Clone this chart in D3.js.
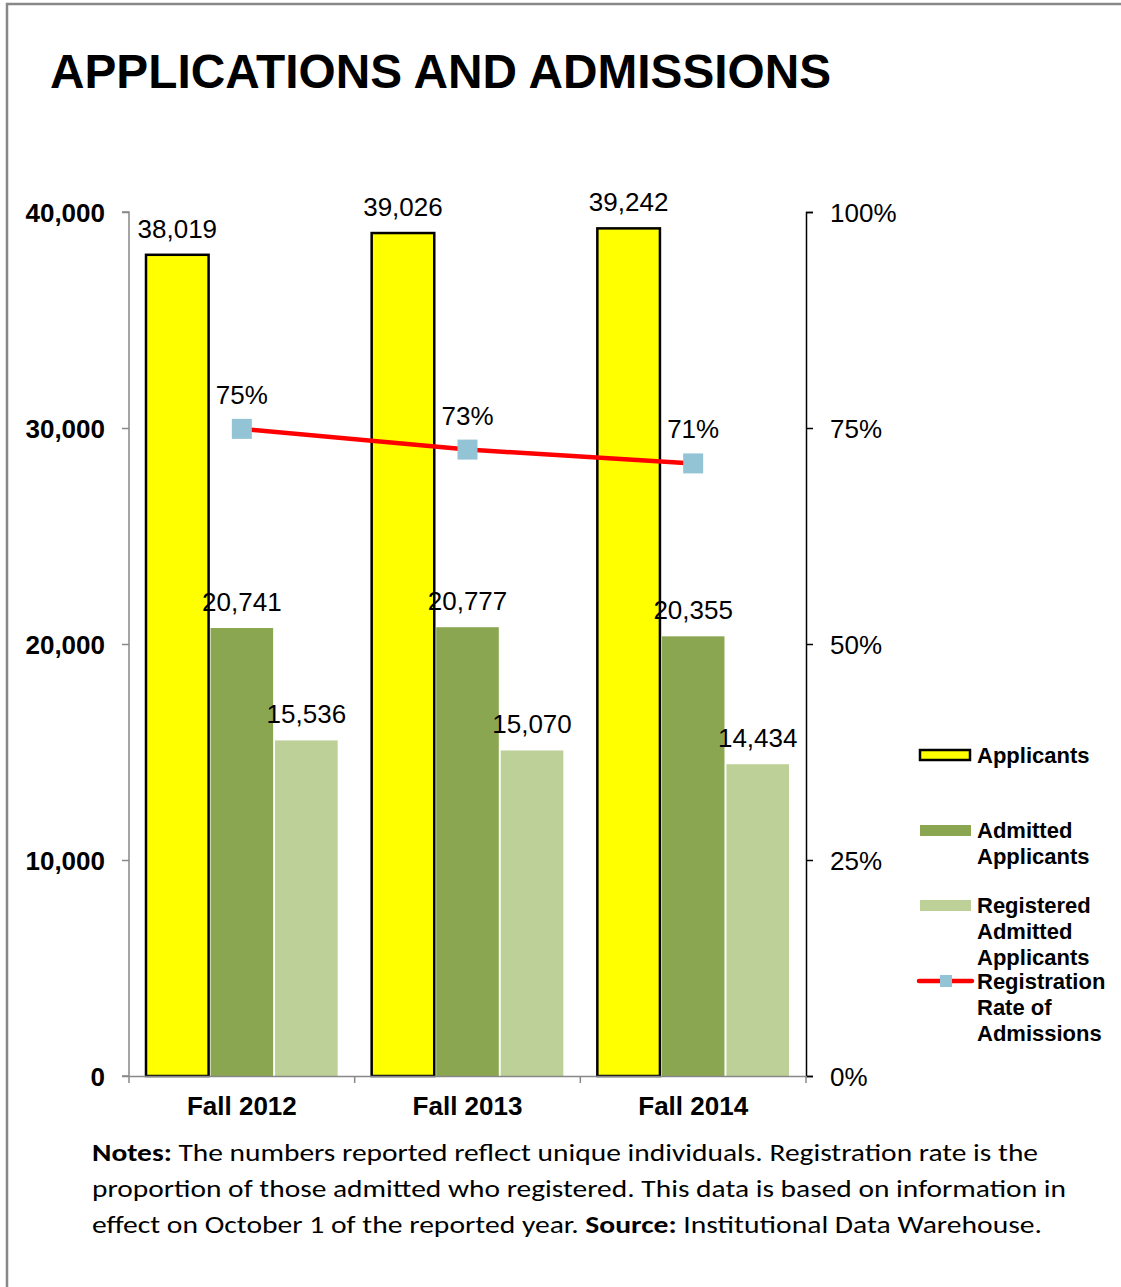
<!DOCTYPE html>
<html lang="en">
<head>
    <meta charset="utf-8">
    <title>Applications and Admissions</title>
    <script type="text/javascript" src="https://d3js.org/d3.v7.min.js"></script>
    <style type="text/css">
        body { margin: 0; background: #fff; }
        svg { font-family: "Liberation Sans", Arial, sans-serif; display: block; }
    </style>
</head>
<body>
<script type="text/javascript">

    var terms = ["Fall 2012", "Fall 2013", "Fall 2014"];
    var applicants = [38019, 39026, 39242];
    var admitted = [20741, 20777, 20355];
    var registered = [15536, 15070, 14434];
    var regRate = [0.749, 0.725, 0.709];
    var leftTicks = [0, 10000, 20000, 30000, 40000];
    var rightTicks = [0, 0.25, 0.5, 0.75, 1];

    var series = [
        {name: "Applicants", values: applicants, fill: "#ffff00", stroke: "#000"},
        {name: "Admitted Applicants", values: admitted, fill: "#8aa650", stroke: "none"},
        {name: "Registered Admitted Applicants", values: registered, fill: "#bcd098", stroke: "none"}
    ];

    var width = 1121, height = 1287;
    var plot = {left: 129, right: 806, top: 212, bottom: 1076};

    var svg = d3.select("body").append("svg")
        .attr("width", width)
        .attr("height", height);

    // page frame
    svg.append("path")
        .attr("d", "M7," + height + "V4H" + width)
        .attr("fill", "none")
        .attr("stroke", "#888")
        .attr("stroke-width", 2.5);

    svg.append("text")
        .attr("x", 50).attr("y", 88)
        .attr("font-size", 48)
        .attr("font-weight", "bold")
        .attr("textLength", 781)
        .attr("lengthAdjust", "spacingAndGlyphs")
        .text("APPLICATIONS AND ADMISSIONS");

    var x0 = d3.scaleBand().domain(terms).range([plot.left, plot.right]).paddingInner(0).paddingOuter(0);
    var x1 = d3.scaleBand().domain(series.map(function(s) { return s.name; }))
        .range([17, x0.bandwidth() - 17]).paddingInner(0.03);
    var y = d3.scaleLinear().domain([0, 40000]).range([plot.bottom, plot.top]);
    var yr = d3.scaleLinear().domain([0, 1]).range([plot.bottom, plot.top]);

    // bars
    series.forEach(function(s) {
        var g = svg.append("g");
        g.selectAll("rect").data(s.values).enter().append("rect")
            .attr("x", function(d, i) { return x0(terms[i]) + x1(s.name); })
            .attr("y", function(d) { return y(d); })
            .attr("width", x1.bandwidth())
            .attr("height", function(d) { return plot.bottom - y(d); })
            .attr("fill", s.fill)
            .attr("stroke", s.stroke)
            .attr("stroke-width", 2.5);
        g.selectAll("text").data(s.values).enter().append("text")
            .attr("x", function(d, i) { return x0(terms[i]) + x1(s.name) + x1.bandwidth() / 2; })
            .attr("y", function(d) { return y(d) - 17; })
            .attr("text-anchor", "middle")
            .attr("font-size", 26)
            .text(function(d) { return d3.format(",")(d); });
    });

    // left axis
    var leftAxis = svg.append("g")
        .attr("transform", "translate(" + plot.left + ",0)")
        .call(d3.axisLeft(y).tickValues(leftTicks).tickSize(7).tickFormat(d3.format(",")));
    leftAxis.selectAll("line, path").attr("stroke", "#888").attr("stroke-width", 1.5);
    leftAxis.select(".domain").attr("d", "M-7," + plot.top + "H0V" + plot.bottom + "H-7");
    leftAxis.selectAll("text")
        .attr("font-size", 26).attr("font-weight", "bold")
        .attr("font-family", "Liberation Sans, Arial, sans-serif")
        .attr("fill", "#000").attr("x", -24).attr("dy", "0.35em");

    // right axis
    var rightAxis = svg.append("g")
        .attr("transform", "translate(" + plot.right + ",0)")
        .call(d3.axisRight(yr).tickValues(rightTicks).tickSize(7).tickFormat(d3.format(".0%")));
    rightAxis.selectAll("line, path").attr("stroke", "#000").attr("stroke-width", 1.5);
    rightAxis.selectAll("text")
        .attr("font-size", 26)
        .attr("font-family", "Liberation Sans, Arial, sans-serif")
        .attr("fill", "#000").attr("x", 24).attr("dy", "0.35em");

    // bottom axis
    var bottomAxis = svg.append("g")
        .attr("transform", "translate(0," + plot.bottom + ")")
        .call(d3.axisBottom(x0).tickSize(0).tickSizeOuter(0));
    bottomAxis.select(".domain").attr("stroke", "#888").attr("stroke-width", 1.5);
    bottomAxis.selectAll("text")
        .attr("font-size", 26).attr("font-weight", "bold")
        .attr("font-family", "Liberation Sans, Arial, sans-serif")
        .attr("fill", "#000").attr("y", 39).attr("dy", 0);
    var catEdges = terms.map(function(t) { return x0(t); }).concat([plot.right]);
    bottomAxis.selectAll(".edge").data(catEdges).enter().append("line")
        .attr("x1", function(d) { return d; }).attr("x2", function(d) { return d; })
        .attr("y1", 0).attr("y2", 7)
        .attr("stroke", "#888").attr("stroke-width", 1.5);

    // registration rate line
    var cx = function(d, i) { return x0(terms[i]) + x0.bandwidth() / 2; };
    svg.append("path")
        .datum(regRate)
        .attr("fill", "none")
        .attr("stroke", "#ff0000")
        .attr("stroke-width", 4.5)
        .attr("d", d3.line().x(cx).y(function(d) { return yr(d); }));
    svg.selectAll(".marker").data(regRate).enter().append("rect")
        .attr("x", function(d, i) { return cx(d, i) - 10; })
        .attr("y", function(d) { return yr(d) - 10; })
        .attr("width", 20).attr("height", 20)
        .attr("fill", "#93c4d6");
    svg.selectAll(".rateLabel").data(regRate).enter().append("text")
        .attr("x", cx)
        .attr("y", function(d) { return yr(d) - 25; })
        .attr("text-anchor", "middle")
        .attr("font-size", 26)
        .text(function(d) { return Math.round(d * 100) + "%"; });

    // legend
    var legend = svg.append("g").attr("font-size", 22).attr("font-weight", "bold");
    var legendItems = [
        {lines: ["Applicants"], y: 763, key: "bar", s: series[0]},
        {lines: ["Admitted", "Applicants"], y: 838, key: "bar", s: series[1]},
        {lines: ["Registered", "Admitted", "Applicants"], y: 913, key: "bar", s: series[2]},
        {lines: ["Registration", "Rate of", "Admissions"], y: 989, key: "line"}
    ];
    legendItems.forEach(function(item) {
        if (item.key === "bar") {
            legend.append("rect")
                .attr("x", 920).attr("y", item.y - 13)
                .attr("width", item.s.stroke === "none" ? 51 : 50)
                .attr("height", item.s.stroke === "none" ? 11 : 10)
                .attr("fill", item.s.fill)
                .attr("stroke", item.s.stroke)
                .attr("stroke-width", 2.5);
        } else {
            legend.append("line")
                .attr("x1", 919).attr("x2", 972)
                .attr("y1", item.y - 8).attr("y2", item.y - 8)
                .attr("stroke", "#ff0000").attr("stroke-width", 4.5)
                .attr("stroke-linecap", "round");
            legend.append("rect")
                .attr("x", 940).attr("y", item.y - 14)
                .attr("width", 12).attr("height", 12)
                .attr("fill", "#93c4d6");
        }
        item.lines.forEach(function(line, j) {
            legend.append("text")
                .attr("x", 977).attr("y", item.y + j * 26)
                .text(line);
        });
    });

    // notes
    var notes = [
        [["Notes:", true], [" The numbers reported reflect unique individuals. Registration rate is the", false]],
        [["proportion of those admitted who registered. This data is based on information in", false]],
        [["effect on October 1 of the reported year. ", false], ["Source:", true], [" Institutional Data Warehouse.", false]]
    ];
    var noteWidths = [946, 974, 950];
    notes.forEach(function(parts, i) {
        var t = svg.append("text")
            .attr("x", 92).attr("y", 1161 + i * 36)
            .attr("font-family", "Carlito, Lato, sans-serif")
            .attr("font-size", 25)
            .attr("xml:space", "preserve")
            .attr("textLength", noteWidths[i])
            .attr("lengthAdjust", "spacingAndGlyphs");
        parts.forEach(function(p) {
            t.append("tspan")
                .attr("font-weight", p[1] ? "bold" : "normal")
                .text(p[0]);
        });
    });

</script>
</body>
</html>
